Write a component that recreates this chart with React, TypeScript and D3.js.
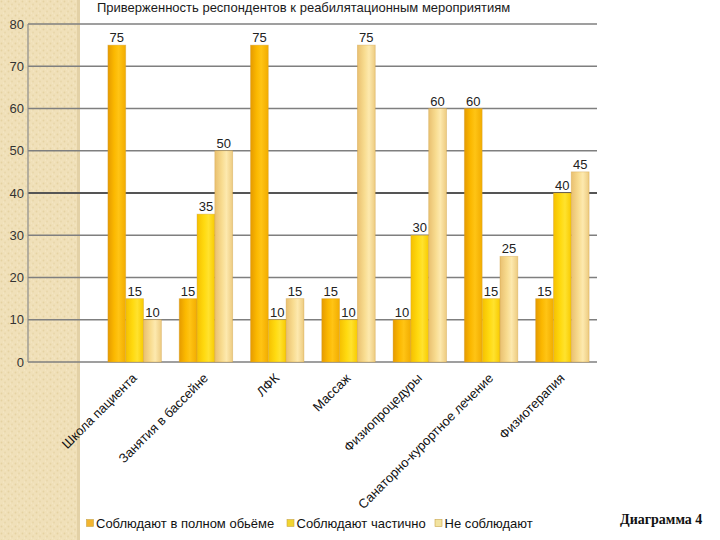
import React from "react";
import * as d3 from "d3";

const categories = [
  "Школа пациента",
  "Занятия в бассейне",
  "ЛФК",
  "Массаж",
  "Физиопроцедуры",
  "Санаторно-курортное лечение",
  "Физиотерапия",
];
const seriesNames = ["Соблюдают в полном обьёме", "Соблюдают частично", "Не соблюдают"];
const fullValues = [75, 15, 75, 15, 10, 60, 15];
const partialValues = [15, 35, 10, 10, 30, 15, 40];
const noneValues = [10, 50, 15, 75, 60, 25, 45];
const yTicks = [0, 10, 20, 30, 40, 50, 60, 70, 80];
const title = "Приверженность респондентов к реабилятационным мероприятиям";
const caption = "Диаграмма 4";

const W = 720;
const H = 540;
const FONT = "Arial, 'Liberation Sans', sans-serif";

const gradStops = [
  [
    ["0%", "#E59A00"],
    ["35%", "#FBB800"],
    ["60%", "#FFC414"],
    ["100%", "#F2AC00"],
  ],
  [
    ["0%", "#F5C000"],
    ["40%", "#FFDA10"],
    ["65%", "#FFE22E"],
    ["100%", "#F8CA00"],
  ],
  [
    ["0%", "#E9C070"],
    ["40%", "#F8DC90"],
    ["65%", "#FDE9AE"],
    ["100%", "#EDCB80"],
  ],
];
const legendColors = ["#F2B530", "#F1D530", "#F2E3A0"];

export default function App() {
  const x0 = d3.scaleBand<string>().domain(categories).range([99, 598]).paddingInner(0.25).paddingOuter(0.125);
  const x1 = d3.scaleBand<number>().domain([0, 1, 2]).range([0, x0.bandwidth()]);
  const y = d3.scaleLinear().domain([0, 80]).range([362, 24]);
  const series = [fullValues, partialValues, noneValues];

  return (
    <svg width={W} height={H} style={{ position: "fixed", left: 0, top: 0, background: "#fff" }}>
      <defs>
        <pattern id="tex" width="7" height="7" patternUnits="userSpaceOnUse">
          <rect width="7" height="7" fill="#F0E0B9" />
          <circle cx="1.5" cy="1.5" r="0.9" fill="#E5D2A2" />
          <circle cx="5" cy="4.5" r="0.9" fill="#E8D6A8" />
          <circle cx="3.5" cy="6" r="0.6" fill="#F7EBCB" />
          <circle cx="5.5" cy="1" r="0.6" fill="#F6E9C8" />
        </pattern>
        {gradStops.map((stops, i) => (
          <linearGradient key={i} id={`g${i}`} x1="0" y1="0" x2="1" y2="0">
            {stops.map(([o, c]) => (
              <stop key={o} offset={o} stopColor={c} />
            ))}
          </linearGradient>
        ))}
      </defs>
      <rect x={0} y={0} width={80} height={H} fill="url(#tex)" />
      <rect x={77} y={0} width={3} height={H} fill="#E3D1A6" />

      <text x={97} y={12} fontFamily={FONT} fontSize={13} fill="#1a1a1a">
        {title}
      </text>

      {yTicks.map((t) => (
        <g key={t}>
          <line
            x1={28}
            x2={597}
            y1={y(t)}
            y2={y(t)}
            stroke={t === 40 ? "#555" : "#7f7f7f"}
            strokeWidth={t === 40 ? 2 : 1.3}
          />
          <text x={24} y={y(t)} dy="0.35em" textAnchor="end" fontFamily={FONT} fontSize={13} fill="#333">
            {t}
          </text>
        </g>
      ))}
      <line x1={28} x2={28} y1={y(80)} y2={y(0)} stroke="#8a8a8a" strokeWidth={1.2} />

      {categories.map((c, ci) => (
        <g key={c} transform={`translate(${x0(c)},0)`}>
          {series.map((vals, si) => {
            const v = vals[ci];
            const bx = x1(si)!;
            const bw = x1.bandwidth();
            return (
              <g key={si}>
                <rect
                  x={bx}
                  y={y(v)}
                  width={bw}
                  height={y(0) - y(v)}
                  fill={`url(#g${si})`}
                  stroke="#D0A040"
                  strokeOpacity={0.45}
                  strokeWidth={0.8}
                />
                <text
                  x={bx + bw / 2}
                  y={y(v) - 3}
                  textAnchor="middle"
                  fontFamily={FONT}
                  fontSize={13}
                  fill="#222"
                >
                  {v}
                </text>
              </g>
            );
          })}
        </g>
      ))}

      {categories.map((c) => {
        const cx = x0(c)! + x0.bandwidth() / 2 + 3;
        return (
          <text
            key={c}
            transform={`translate(${cx},379) rotate(-45)`}
            textAnchor="end"
            fontFamily={FONT}
            fontSize={13}
            fill="#111"
          >
            {c}
          </text>
        );
      })}

      {(() => {
        const xs = [86.5, 287, 435];
        return seriesNames.map((n, i) => (
          <g key={n}>
            <rect x={xs[i]} y={519.5} width={7} height={7} fill={legendColors[i]} stroke="#C9A548" strokeWidth={0.6} />
            <text x={xs[i] + 9.5} y={527.5} fontFamily={FONT} fontSize={13} fill="#111">
              {n}
            </text>
          </g>
        ));
      })()}

      <text
        x={620}
        y={524}
        fontFamily="'Liberation Serif', 'Times New Roman', serif"
        fontWeight="bold"
        fontSize={14}
        fill="#111"
      >
        {caption}
      </text>
    </svg>
  );
}
